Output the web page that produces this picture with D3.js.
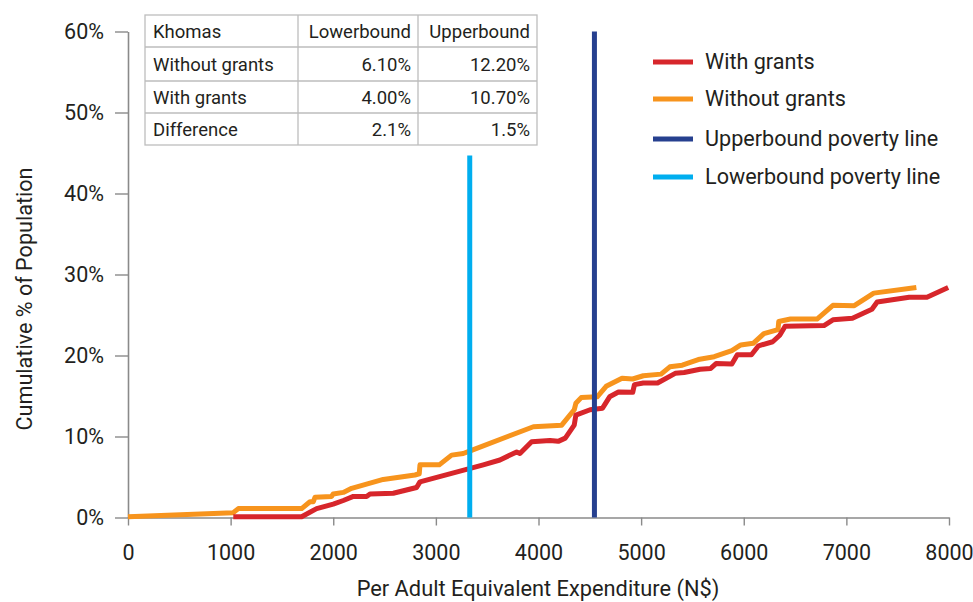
<!DOCTYPE html>
<html>
<head>
<meta charset="utf-8">
<script src="https://cdn.jsdelivr.net/npm/d3@7/dist/d3.min.js"></script>
<style>
  html, body { margin: 0; padding: 0; background: #fff; }
  svg { display: block; }
  text { font-family: Roboto, "Liberation Sans", sans-serif; fill: #231f20; }
</style>
</head>
<body>
<svg id="chart" width="973" height="602"></svg>
<script>
// ---- Data ----
const withoutGrantsX = [0, 1026, 1075, 1692, 1773, 1806, 1822, 1984, 2000, 2098, 2179, 2487, 2796, 2838, 2845, 3033, 3153, 3267, 3328, 3950, 4226, 4348, 4364, 4416, 4572, 4659, 4814, 4918, 5021, 5194, 5280, 5401, 5557, 5712, 5884, 5971, 6092, 6196, 6334, 6341, 6455, 6714, 6869, 7077, 7267, 7682];
const withoutGrantsY = [0.1, 0.6, 1.1, 1.1, 1.95, 1.95, 2.5, 2.6, 2.9, 3.1, 3.6, 4.7, 5.25, 5.4, 6.5, 6.5, 7.7, 7.9, 8.2, 11.2, 11.4, 13.3, 14.1, 14.8, 14.9, 16.2, 17.2, 17.1, 17.5, 17.7, 18.6, 18.8, 19.5, 19.85, 20.6, 21.3, 21.5, 22.7, 23.2, 24.2, 24.5, 24.5, 26.2, 26.15, 27.7, 28.4];

const withGrantsX = [1026, 1692, 1838, 2000, 2098, 2196, 2325, 2358, 2585, 2812, 2845, 3462, 3624, 3787, 3819, 3933, 4111, 4192, 4261, 4348, 4364, 4503, 4624, 4693, 4779, 4918, 4935, 5021, 5160, 5332, 5419, 5574, 5678, 5730, 5884, 5937, 6075, 6144, 6282, 6351, 6403, 6782, 6869, 7059, 7249, 7300, 7612, 7785, 7992];
const withGrantsY = [0.1, 0.1, 1.1, 1.65, 2.1, 2.6, 2.6, 2.9, 3.0, 3.7, 4.4, 6.5, 7.1, 8.1, 7.9, 9.35, 9.5, 9.4, 9.8, 11.4, 12.65, 13.3, 13.5, 14.9, 15.5, 15.45, 16.4, 16.6, 16.6, 17.8, 17.9, 18.3, 18.4, 19.0, 18.95, 20.1, 20.1, 21.2, 21.7, 22.5, 23.6, 23.7, 24.4, 24.6, 25.7, 26.6, 27.2, 27.2, 28.4];

const lowerboundLine = { x: 3330, top: 44.7 };
const upperboundLine = { x: 4545, top: 60 };

const xTicks = [0, 1000, 2000, 3000, 4000, 5000, 6000, 7000, 8000];
const yTicks = [0, 10, 20, 30, 40, 50, 60];

const legendLabels = ["With grants", "Without grants", "Upperbound poverty line", "Lowerbound poverty line"];
const legendColors = ["#d7262b", "#f7941d", "#26408f", "#00aeef"];

const tableHeader = ["Khomas", "Lowerbound", "Upperbound"];
const tableRows = [
  ["Without grants", "6.10%", "12.20%"],
  ["With grants", "4.00%", "10.70%"],
  ["Difference", "2.1%", "1.5%"]
];

// ---- Layout ----
const svg = d3.select("#chart");
const x = d3.scaleLinear().domain([0, 8000]).range([128, 949]);
const y = d3.scaleLinear().domain([0, 60]).range([517.5, 31.5]);
const axisColor = "#8a8a8a";

// axes
const xAxis = svg.append("g").attr("transform", `translate(0,${y(0)})`)
  .call(d3.axisBottom(x).tickValues(xTicks).tickSize(8).tickSizeOuter(0).tickPadding(19).tickFormat(d3.format("d")));
const yAxis = svg.append("g").attr("transform", `translate(${x(0)},0)`)
  .call(d3.axisLeft(y).tickValues(yTicks).tickSize(13).tickSizeOuter(0).tickPadding(11).tickFormat(d => d + "%"));
[xAxis, yAxis].forEach(g => {
  g.select(".domain").attr("stroke", axisColor).attr("stroke-width", 1.6);
  g.selectAll(".tick line").attr("stroke", axisColor).attr("stroke-width", 1.4);
  g.selectAll(".tick text").style("font-family", "Roboto, sans-serif").style("font-size", "21.5px").attr("fill", "#231f20");
});

// axis titles
svg.append("text").attr("x", 538).attr("y", 596).attr("text-anchor", "middle")
  .style("font-size", "21.8px").text("Per Adult Equivalent Expenditure (N$)");
svg.append("text").attr("transform", "translate(32,299) rotate(-90)").attr("text-anchor", "middle")
  .style("font-size", "21.6px").text("Cumulative % of Population");

// curves
const line = d3.line().x(d => x(d[0])).y(d => y(d[1]));
svg.append("path").datum(d3.zip(withoutGrantsX, withoutGrantsY))
  .attr("d", line).attr("fill", "none").attr("stroke", legendColors[1]).attr("stroke-width", 5).attr("stroke-linejoin", "round");
svg.append("path").datum(d3.zip(withGrantsX, withGrantsY))
  .attr("d", line).attr("fill", "none").attr("stroke", legendColors[0]).attr("stroke-width", 5).attr("stroke-linejoin", "round");

// poverty lines
[[lowerboundLine, legendColors[3]], [upperboundLine, legendColors[2]]].forEach(([l, c]) => {
  svg.append("line").attr("x1", x(l.x)).attr("x2", x(l.x)).attr("y1", y(0)).attr("y2", y(l.top))
    .attr("stroke", c).attr("stroke-width", 5);
});

// legend
const legY = [62, 99, 139, 177];
legendLabels.forEach((lab, i) => {
  svg.append("line").attr("x1", 653).attr("x2", 693).attr("y1", legY[i]).attr("y2", legY[i])
    .attr("stroke", legendColors[i]).attr("stroke-width", 5);
  svg.append("text").attr("x", 705).attr("y", legY[i] + 7).style("font-size", "21.6px").text(lab);
});

// table
const colX = [145, 298, 418, 537];
const rowY = [15, 47, 81, 113, 145];
const tbl = svg.append("g");
tbl.append("rect").attr("x", colX[0]).attr("y", rowY[0]).attr("width", colX[3] - colX[0]).attr("height", rowY[4] - rowY[0])
  .attr("fill", "#fff").attr("stroke", "#bdbdbd").attr("stroke-width", 1.3);
colX.slice(1, 3).forEach(cx => tbl.append("line").attr("x1", cx).attr("x2", cx).attr("y1", rowY[0]).attr("y2", rowY[4]).attr("stroke", "#bdbdbd").attr("stroke-width", 1.3));
rowY.slice(1, 4).forEach(ry => tbl.append("line").attr("x1", colX[0]).attr("x2", colX[3]).attr("y1", ry).attr("y2", ry).attr("stroke", "#bdbdbd").attr("stroke-width", 1.3));
[tableHeader, ...tableRows].forEach((row, r) => {
  const cy = (rowY[r] + rowY[r + 1]) / 2 + 6.5;
  tbl.append("text").attr("x", colX[0] + 8).attr("y", cy).style("font-size", "18.5px").text(row[0]);
  tbl.append("text").attr("x", colX[2] - 7).attr("y", cy).attr("text-anchor", "end").style("font-size", "18.5px").text(row[1]);
  tbl.append("text").attr("x", colX[3] - 7).attr("y", cy).attr("text-anchor", "end").style("font-size", "18.5px").text(row[2]);
});
</script>
</body>
</html>
